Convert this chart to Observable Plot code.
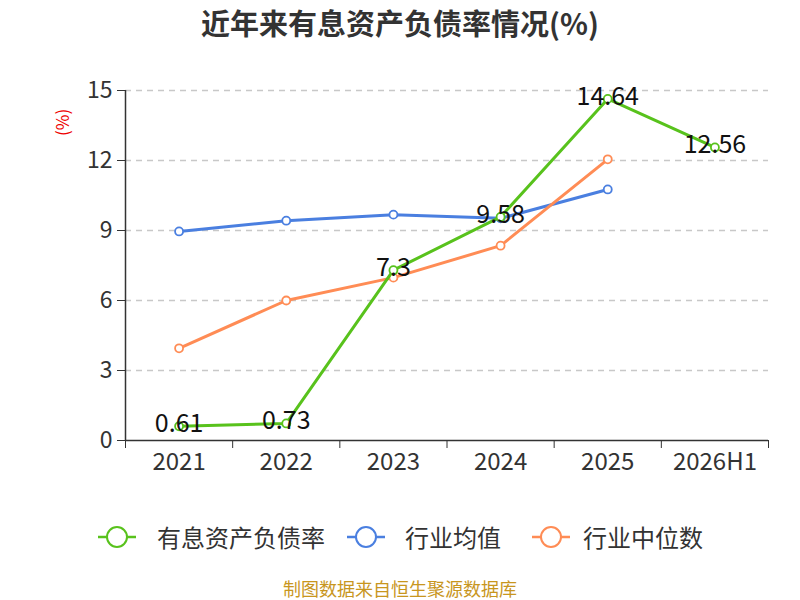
<!DOCTYPE html>
<html>
<head>
<meta charset="utf-8">
<script src="https://cdn.jsdelivr.net/npm/d3@7"></script>
<script src="https://cdn.jsdelivr.net/npm/@observablehq/plot@0.6"></script>
<style>
  body { margin: 0; background: #fff; font-family: "Noto Sans CJK SC", "Noto Sans", sans-serif; }
  #wrap { position: relative; width: 800px; height: 600px; overflow: hidden; }
  #title { position: absolute; left: 0; top: 2px; width: 800px; text-align: center; font-size: 29px; font-weight: bold; color: #333; line-height: 40px; }
  #chart { position: absolute; left: 0; top: 50px; }
  #ylab { position: absolute; left: 50px; top: 112px; width: 24px; height: 30px; color: #e00; font-size: 17px; }
  #ylab span { display: block; transform: rotate(-90deg); transform-origin: center; white-space: nowrap; line-height: 24px; text-align: center; }
  #legend { position: absolute; top: 519px; left: 0; width: 800px; height: 36px; }
  .sym { position: absolute; top: 3px; }
  .lab { position: absolute; top: 0; font-size: 24px; color: #333; line-height: 36px; white-space: nowrap; }
  #caption { position: absolute; top: 578px; left: 0; width: 800px; text-align: center; font-size: 18px; color: #c8961e; line-height: 20px; }
</style>
</head>
<body>
<div id="wrap">
  <div id="title">近年来有息资产负债率情况(%)</div>
  <div id="ylab"><span>(%)</span></div>
  <div id="chart"></div>
  <div id="legend"></div>
  <div id="caption">制图数据来自恒生聚源数据库</div>
</div>
<script>
const categories = ["2021", "2022", "2023", "2024", "2025", "2026H1"];
const debtRatio = [0.61, 0.73, 7.3, 9.58, 14.64, 12.56];
const industryMean = [8.96, 9.42, 9.68, 9.52, 10.76, null];
const industryMedian = [3.95, 6.0, 6.98, 8.35, 12.05, null];
const yTicks = [0, 3, 6, 9, 12, 15];
const seriesNames = ["有息资产负债率", "行业均值", "行业中位数"];
const colors = ["#58c21c", "#4a7fe0", "#ff8c55"];

const toRows = (vals, s) => vals.map((v, i) => ({i, v, s})).filter(d => d.v != null);
const green = toRows(debtRatio, 0);
const blue = toRows(industryMean, 1);
const orange = toRows(industryMedian, 2);
const boundaries = d3.range(categories.length + 1).map(k => k - 0.5);

const font = '"Noto Sans CJK SC", "Noto Sans", sans-serif';

const lineMarks = (rows, c) => [
  Plot.line(rows, {x: "i", y: "v", stroke: c, strokeWidth: 3}),
  Plot.dot(rows, {x: "i", y: "v", r: 4, fill: "#fff", stroke: c, strokeWidth: 1.8})
];

const plot = Plot.plot({
  width: 800,
  height: 440,
  marginTop: 40,
  marginBottom: 50,
  marginLeft: 125,
  marginRight: 32,
  style: {fontFamily: font, background: "transparent", overflow: "visible"},
  x: {type: "linear", domain: [-0.5, categories.length - 0.5]},
  y: {domain: [0, 15]},
  marks: [
    Plot.gridY(yTicks.filter(t => t > 0), {stroke: "#c8c8c8", strokeOpacity: 1, strokeDasharray: "6,5", strokeWidth: 1.3}),
    Plot.axisY({ticks: yTicks, tickSize: 8, tickPadding: 5, fontSize: 23, color: "#333", label: null, tickFormat: d => d}),
    Plot.axisX({ticks: boundaries, tickSize: 8, tickFormat: () => "", label: null, color: "#333"}),
    Plot.axisX({ticks: d3.range(categories.length), tickSize: 0, tickPadding: 12, tickFormat: i => categories[i], fontSize: 24, color: "#333", label: null}),
    Plot.ruleY([0], {stroke: "#333", strokeWidth: 1.5}),
    Plot.ruleX([-0.5], {y1: 0, y2: 15, stroke: "#333", strokeWidth: 1.5}),
    ...lineMarks(blue, colors[1]),
    ...lineMarks(orange, colors[2]),
    ...lineMarks(green, colors[0]),
    Plot.text(green, {x: "i", y: "v", text: d => String(d.v), dy: -2, fontSize: 25, fill: "#111"})
  ]
});
document.getElementById("chart").appendChild(plot);

// legend
const legend = document.getElementById("legend");
const symLefts = [97, 346, 531];
const labLefts = [157, 405, 583];
seriesNames.forEach((name, k) => {
  const s = document.createElement("div");
  s.className = "sym";
  s.style.left = symLefts[k] + "px";
  s.innerHTML = `<svg width="40" height="30"><line x1="1" y1="15" x2="39" y2="15" stroke="${colors[k]}" stroke-width="2.5"/><circle cx="20" cy="15" r="10" fill="#fff" stroke="${colors[k]}" stroke-width="2"/></svg>`;
  legend.appendChild(s);
  const t = document.createElement("div");
  t.className = "lab";
  t.style.left = labLefts[k] + "px";
  t.textContent = name;
  legend.appendChild(t);
});
</script>
</body>
</html>
